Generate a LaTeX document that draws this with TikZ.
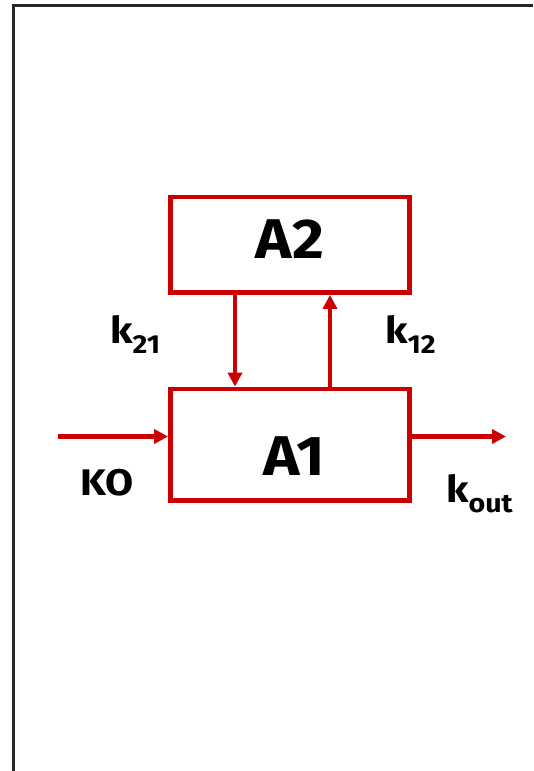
\documentclass[tikz,border=0pt]{standalone}
\usepackage{fontspec}
\setmainfont{Fira Sans}[FakeStretch=1.1]
\usetikzlibrary{arrows.meta}
\definecolor{flowred}{HTML}{CC0000}
\tikzset{
  compartment/.style={draw=flowred, line width=4.8pt, rectangle, minimum width=239pt, inner sep=0pt},
  flow/.style={draw=flowred, line width=4.3pt, -{Triangle[length=14pt,width=14pt]}},
  boxlabel/.style={font=\fontsize{56}{60}\selectfont\bfseries, inner sep=0pt, anchor=base},
  ratelabel/.style={font=\fontsize{37}{40}\selectfont\bfseries, inner sep=0pt, anchor=base west},
}
\newcommand{\rsub}[1]{\raisebox{-10pt}{\fontsize{26}{28}\selectfont\bfseries #1}}
\begin{document}
\begin{tikzpicture}[x=1pt,y=-1pt]
  \useasboundingbox (0,0) rectangle (533,771);
  % outer frame, open to the right and bottom
  \draw[line width=3pt, black!85] (13,771) -- (13,5) -- (533,5);

  % compartments
  \node[compartment, minimum height=95.5pt] (A2) at (290,244.75) {};
  \node[compartment, minimum height=111.5pt] (A1) at (290,444.75) {};
  \node[boxlabel] (tA2) at (290,258) {A2};
  \node[boxlabel] (tA1) at (294,475) {A1};

  % exchange between compartments
  \coordinate (down) at (235,0);
  \coordinate (up) at (330,0);
  \draw[flow] (A2.south -| down) -- (A1.north -| down);
  \draw[flow] (A1.north -| up) -- (A2.south -| up);

  % input and elimination
  \coordinate (in) at (58,436.5);
  \coordinate (out) at (506,436.5);
  \draw[flow] (in) -- (A1.west |- in);
  \draw[flow] (A1.east |- out) -- (out);

  % rate labels
  \node[ratelabel] (k21) at (110,343) {k\rsub{21}};
  \node[ratelabel] (k12) at (385,343) {k\rsub{12}};
  \node[ratelabel] (KO) at (80,495) {KO};
  \node[ratelabel] (kout) at (446,502) {k\rsub{out}};
\end{tikzpicture}
\end{document}
